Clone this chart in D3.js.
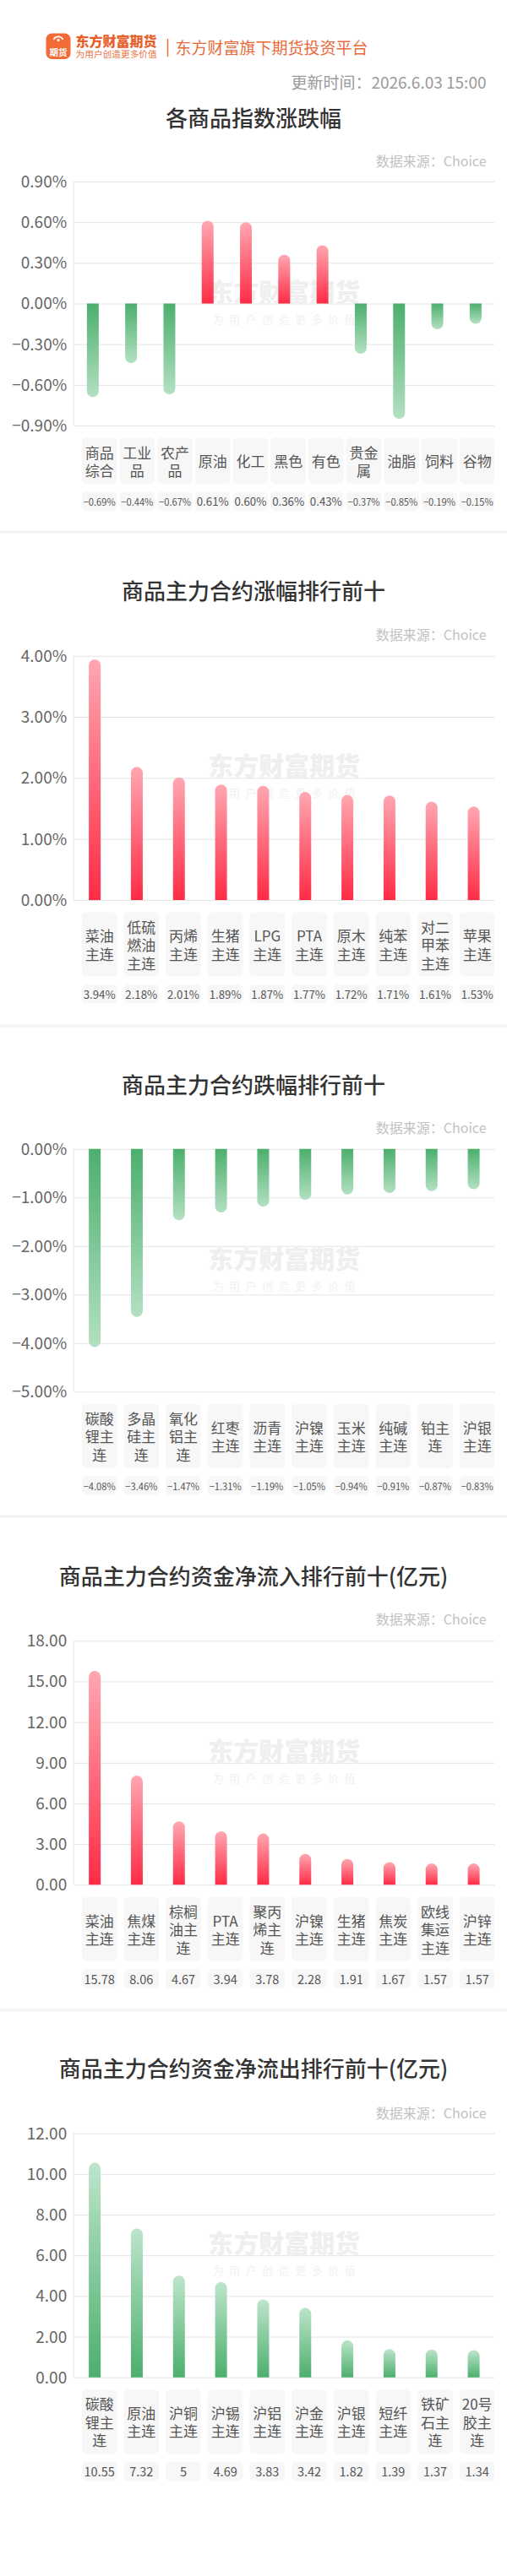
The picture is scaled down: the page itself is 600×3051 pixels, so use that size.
<!DOCTYPE html>
<html><head><meta charset="utf-8">
<script src="https://cdn.jsdelivr.net/npm/d3@7/dist/d3.min.js"></script>
<style>
body{margin:0;background:#fff;}
svg{display:block;font-family:"Noto Sans CJK SC","Noto Sans",sans-serif;}
</style>
</head><body>
<svg id="c" width="600" height="3051"></svg>
<script>
// ---------- data ----------
const idxCats = ["商品综合","工业品","农产品","原油","化工","黑色","有色","贵金属","油脂","饲料","谷物"];
const idxVals = [-0.69,-0.44,-0.67,0.61,0.60,0.36,0.43,-0.37,-0.85,-0.19,-0.15];
const idxTicks = [-0.9,-0.6,-0.3,0,0.3,0.6,0.9];

const upCats = ["菜油主连","低硫燃油主连","丙烯主连","生猪主连","LPG主连","PTA主连","原木主连","纯苯主连","对二甲苯主连","苹果主连"];
const upVals = [3.94,2.18,2.01,1.89,1.87,1.77,1.72,1.71,1.61,1.53];
const upTicks = [0,1,2,3,4];

const downCats = ["碳酸锂主连","多晶硅主连","氧化铝主连","红枣主连","沥青主连","沪镍主连","玉米主连","纯碱主连","铂主连","沪银主连"];
const downVals = [-4.08,-3.46,-1.47,-1.31,-1.19,-1.05,-0.94,-0.91,-0.87,-0.83];
const downTicks = [-5,-4,-3,-2,-1,0];

const inCats = ["菜油主连","焦煤主连","棕榈油主连","PTA主连","聚丙烯主连","沪镍主连","生猪主连","焦炭主连","欧线集运主连","沪锌主连"];
const inVals = [15.78,8.06,4.67,3.94,3.78,2.28,1.91,1.67,1.57,1.57];
const inTicks = [0,3,6,9,12,15,18];

const outCats = ["碳酸锂主连","原油主连","沪铜主连","沪锡主连","沪铝主连","沪金主连","沪银主连","短纤主连","铁矿石主连","20号胶主连"];
const outVals = [10.55,7.32,5,4.69,3.83,3.42,1.82,1.39,1.37,1.34];
const outTicks = [0,2,4,6,8,10,12];

const titles = ["各商品指数涨跌幅","商品主力合约涨幅排行前十","商品主力合约跌幅排行前十","商品主力合约资金净流入排行前十(亿元)","商品主力合约资金净流出排行前十(亿元)"];
const updateText = "更新时间：2026.6.03 15:00";
const sourceText = "数据来源：Choice";

// ---------- layout ----------
const FONT = '"Noto Sans CJK SC","Noto Sans",sans-serif';
const X0 = 87.2, X1 = 585.5;
const BOX_X0 = 96.8, BOX_W = 41.7;
const pct = v => d3.format(".2f")(v) + "%";
const num2 = v => d3.format(".2f")(v);
const plain = v => String(v);

const charts = [
  {title:titles[0], cats:idxCats, vals:idxVals, ticks:idxTicks, tickFmt:pct, valFmt:pct, titleY:138.5, srcY:190, top:215, bottom:504, sepY:630, colorMode:"sign"},
  {title:titles[1], cats:upCats, vals:upVals, ticks:upTicks, tickFmt:pct, valFmt:pct, titleY:698, srcY:751, top:776.7, bottom:1066, sepY:1215, colorMode:"sign"},
  {title:titles[2], cats:downCats, vals:downVals, ticks:downTicks, tickFmt:pct, valFmt:pct, titleY:1283.3, srcY:1335, top:1360.7, bottom:1648.3, sepY:1796, colorMode:"sign"},
  {title:titles[3], cats:inCats, vals:inVals, ticks:inTicks, tickFmt:num2, valFmt:plain, titleY:1865, srcY:1916.7, top:1943.3, bottom:2232.3, sepY:2381, colorMode:"red"},
  {title:titles[4], cats:outCats, vals:outVals, ticks:outTicks, tickFmt:num2, valFmt:plain, titleY:2448.3, srcY:2501.7, top:2526.7, bottom:2815.7, sepY:null, colorMode:"green"}
];

const svg = d3.select("#c");
const defs = svg.append("defs");
function grad(id, from, to, up){
  const g = defs.append("linearGradient").attr("id",id)
    .attr("x1",0).attr("x2",0).attr("y1",up?1:0).attr("y2",up?0:1);
  g.append("stop").attr("offset","0%").attr("stop-color",from);
  g.append("stop").attr("offset","100%").attr("stop-color",to);
}
grad("redUp","#ff2b45","#ffa7b1",true);
grad("greenDown","#4caf6d","#b3e0c2",false);
grad("greenUp","#4caf6d","#bde5cb",true);

// ---------- header ----------
const hdr = svg.append("g");
hdr.append("rect").attr("x",54.5).attr("y",39.5).attr("width",29).attr("height",30.5).attr("rx",7).attr("fill","#f26b36");
hdr.append("path").attr("d","M63.5,47 A6,6 0 0 1 74.5,47").attr("fill","none").attr("stroke","#fff").attr("stroke-width",1.6);
hdr.append("circle").attr("cx",69).attr("cy",47.5).attr("r",1.6).attr("fill","#fff");
hdr.append("text").attr("x",69).attr("y",66).attr("text-anchor","middle").attr("fill","#fff")
  .style("font-size","10.5px").style("font-weight","700").style("font-family",FONT).text("期货");
hdr.append("text").attr("x",89.5).attr("y",55).attr("fill","#e8612b")
  .style("font-size","16px").style("font-weight","900").style("font-family",FONT).text("东方财富期货");
hdr.append("text").attr("x",89.5).attr("y",67.5).attr("fill","#ec7548")
  .style("font-size","10.7px").style("font-family",FONT).text("为用户创造更多价值");
hdr.append("line").attr("x1",198.5).attr("x2",198.5).attr("y1",46).attr("y2",67).attr("stroke","#ec6e3e").attr("stroke-width",1.5);
hdr.append("text").attr("x",207.5).attr("y",55).attr("dominant-baseline","central").attr("fill","#e96a3b")
  .style("font-size","19px").style("font-family",FONT).text("东方财富旗下期货投资平台");
hdr.append("text").attr("x",575.5).attr("y",96.5).attr("dominant-baseline","central").attr("text-anchor","end")
  .attr("fill","#9a9a9a").style("font-size","19px").style("font-family",FONT).text(updateText);

// measurement helper
const meas = svg.append("text").style("font-family",FONT).attr("x",-1000).attr("y",-1000);
function textW(t, size){ meas.style("font-size",size+"px").text(t); return meas.node().getComputedTextLength(); }
function wrap(t, size, maxW){
  const lines=[]; let cur="";
  for(const ch of Array.from(t)){
    if(cur && textW(cur+ch,size) > maxW){ lines.push(cur); cur=ch; } else cur+=ch;
  }
  if(cur) lines.push(cur);
  return lines;
}

// ---------- charts ----------
charts.forEach(ch => {
  const g = svg.append("g");
  const n = ch.cats.length;
  g.append("text").attr("x",300).attr("y",ch.titleY).attr("text-anchor","middle").attr("dominant-baseline","central")
    .attr("fill","#333").style("font-size","26px").style("font-weight","500").style("font-family",FONT).text(ch.title);
  g.append("text").attr("x",575.5).attr("y",ch.srcY).attr("text-anchor","end").attr("dominant-baseline","central")
    .attr("fill","#c2c2c2").style("font-size","16px").style("font-family",FONT).text(sourceText);

  const y = d3.scaleLinear().domain(d3.extent(ch.ticks)).range([ch.bottom, ch.top]);
  const x = d3.scaleBand().domain(d3.range(n)).range([X0, X1]);

  const ax = g.append("g").attr("transform",`translate(${X0},0)`)
    .call(d3.axisLeft(y).tickValues(ch.ticks).tickFormat(ch.tickFmt).tickSize(-(X1-X0)).tickPadding(8));
  ax.select(".domain").remove();
  ax.attr("font-family",FONT).attr("font-size",19);
  ax.selectAll(".tick line").attr("stroke","#e4e4e4");
  ax.selectAll(".tick text").attr("fill","#666").attr("dy","0.34em");
  g.append("line").attr("x1",X0).attr("x2",X0).attr("y1",ch.top).attr("y2",ch.bottom).attr("stroke","#e4e4e4");

  // watermark
  const cx = (X0+X1)/2, cy = (ch.top+ch.bottom)/2;
  g.append("text").attr("x",cx).attr("y",cy-16).attr("text-anchor","middle").attr("dominant-baseline","central")
    .attr("fill","#efefef").style("font-size","30px").style("font-weight","900").style("font-family",FONT).text("东方财富期货");
  g.append("text").attr("x",cx+3).attr("y",cy+17.5).attr("text-anchor","middle").attr("dominant-baseline","central")
    .attr("fill","#f1f1f1").style("font-size","13px").style("letter-spacing","6.5px").style("font-family",FONT).text("为用户创造更多价值");

  // bars
  const bw = 14, r = 7, y0 = y(0);
  g.selectAll("path.bar").data(ch.vals).enter().append("path").attr("class","bar")
    .attr("d",(v,i)=>{
      const c = x(i)+x.bandwidth()/2, l=c-bw/2, rr=c+bw/2, y1=y(v);
      if(v>=0){ const ye=Math.min(y1+r,y0); return `M${l},${y0}V${ye}A${r},${r} 0 0 1 ${rr},${ye}V${y0}Z`; }
      const ye=Math.max(y1-r,y0); return `M${l},${y0}V${ye}A${r},${r} 0 0 0 ${rr},${ye}V${y0}Z`;
    })
    .attr("fill",v=> ch.colorMode==="red" ? "url(#redUp)" : ch.colorMode==="green" ? "url(#greenUp)" : (v>=0?"url(#redUp)":"url(#greenDown)"));

  // label boxes
  const pitch = (X1 - BOX_X0 - BOX_W)/(n-1);
  const catSize = 17, lh = 21.5;
  const wrapped = ch.cats.map(c=>wrap(c,catSize,BOX_W-4));
  const maxLines = d3.max(wrapped, w=>w.length);
  const boxTop = ch.bottom + 14.5, boxH = maxLines*lh + 11.5;
  const vTop = boxTop + boxH + 9.5, vH = 22.5;
  ch.cats.forEach((c,i)=>{
    const bx = BOX_X0 + i*pitch;
    g.append("rect").attr("x",bx).attr("y",boxTop).attr("width",BOX_W).attr("height",boxH).attr("rx",5).attr("fill","#f7f7f7");
    g.append("rect").attr("x",bx).attr("y",vTop).attr("width",BOX_W).attr("height",vH).attr("rx",5).attr("fill","#f7f7f7");
    const lines = wrapped[i], mid = boxTop+boxH/2;
    lines.forEach((ln,j)=>{
      g.append("text").attr("x",bx+BOX_W/2).attr("y",mid+(j-(lines.length-1)/2)*lh).attr("text-anchor","middle")
        .attr("dominant-baseline","central").attr("fill","#555").style("font-size",catSize+"px").style("font-family",FONT).text(ln);
    });
    const vt = ch.valFmt(ch.vals[i]);
    let fs = 14.5; const w = textW(vt,fs); if(w>38) fs = fs*38/w;
    g.append("text").attr("x",bx+BOX_W/2).attr("y",vTop+vH/2).attr("text-anchor","middle").attr("dominant-baseline","central")
      .attr("fill","#555").style("font-size",fs+"px").style("font-family",FONT).text(vt);
  });

  if(ch.sepY!==null){
    g.append("rect").attr("x",0).attr("y",ch.sepY-1.5).attr("width",600).attr("height",3).attr("fill","#f4f4f4");
  }
});
meas.remove();
</script>
</body></html>
